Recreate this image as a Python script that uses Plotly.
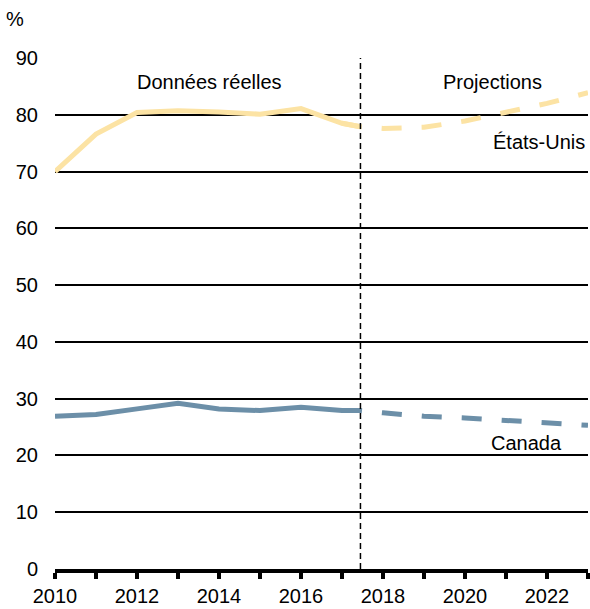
import plotly.graph_objects as go

# Données réelles
years_actual = [2010, 2011, 2012, 2013, 2014, 2015, 2016, 2017, 2017.45]
us_actual = [70.0, 76.6, 80.4, 80.7, 80.5, 80.1, 81.1, 78.5, 77.9]
ca_actual = [26.9, 27.2, 28.2, 29.2, 28.2, 27.9, 28.5, 27.9, 27.9]

# Projections (the first point sits under the solid line)
years_proj = [2017, 2017.45, 2018, 2019, 2020, 2021, 2022, 2023]
us_proj = [78.5, 77.9, 77.6, 77.8, 78.9, 80.4, 82.0, 83.9]
ca_proj = [27.9, 27.9, 27.5, 26.9, 26.6, 26.2, 25.7, 25.3]

split_year = 2017.45
year_ticks = list(range(2010, 2024))
year_labels = [str(y) if y % 2 == 0 else "" for y in year_ticks]

US_COLOR = "#FCE3A4"
CA_COLOR = "#6C8FA8"
FONT = "Liberation Sans, Arial, sans-serif"

fig = go.Figure()

for x, y, color, dash in [
    (years_proj, us_proj, US_COLOR, "20px,20px"),
    (years_actual, us_actual, US_COLOR, "solid"),
    (years_proj, ca_proj, CA_COLOR, "20px,20px"),
    (years_actual, ca_actual, CA_COLOR, "solid"),
]:
    fig.add_trace(
        go.Scatter(
            x=x,
            y=y,
            mode="lines",
            line={"color": color, "width": 5, "dash": dash},
            showlegend=False,
            hoverinfo="skip",
        )
    )

fig.add_shape(
    type="line",
    xref="x",
    yref="paper",
    x0=split_year,
    x1=split_year,
    y0=0,
    y1=1,
    line={"color": "black", "width": 1.5, "dash": "6px,4px"},
)

annotations = [
    {"x": 2013.78, "y": 85.8, "text": "Données réelles", "xanchor": "center"},
    {"x": 2020.66, "y": 85.8, "text": "Projections", "xanchor": "center"},
    {"x": 2022.97, "y": 75.2, "text": "États-Unis", "xanchor": "right"},
    {"x": 2022.42, "y": 22.2, "text": "Canada", "xanchor": "right"},
]
for a in annotations:
    fig.add_annotation(
        x=a["x"], y=a["y"], text=a["text"], xanchor=a["xanchor"],
        yanchor="middle", showarrow=False,
        font={"family": FONT, "size": 20, "color": "black"},
    )

fig.add_annotation(
    xref="paper", yref="paper", x=-0.075, y=1.077, text="%",
    xanchor="center", yanchor="middle", showarrow=False,
    font={"family": FONT, "size": 20, "color": "black"},
)

fig.update_xaxes(
    range=[2010, 2023],
    tickvals=year_ticks,
    ticktext=year_labels,
    ticks="outside",
    ticklen=6,
    tickwidth=4,
    tickcolor="black",
    showline=True,
    linecolor="black",
    linewidth=4,
    showgrid=False,
    zeroline=False,
    tickfont={"family": FONT, "size": 20, "color": "black"},
)
fig.update_yaxes(
    range=[0, 90],
    dtick=10,
    showgrid=True,
    gridcolor="black",
    gridwidth=1.5,
    zeroline=False,
    showline=False,
    ticks="",
    ticklabelstandoff=16,
    tickfont={"family": FONT, "size": 20, "color": "black"},
)
fig.update_layout(
    width=590,
    height=609,
    margin={"l": 55, "r": 2, "t": 58, "b": 32},
    paper_bgcolor="white",
    plot_bgcolor="white",
    font={"family": FONT, "size": 20, "color": "black"},
)

# drop the default 8px body margin so the figure fills the window
fig.write_html(
    "out.html",
    config={"displayModeBar": False},
    post_script="document.body.style.margin='0';",
)
